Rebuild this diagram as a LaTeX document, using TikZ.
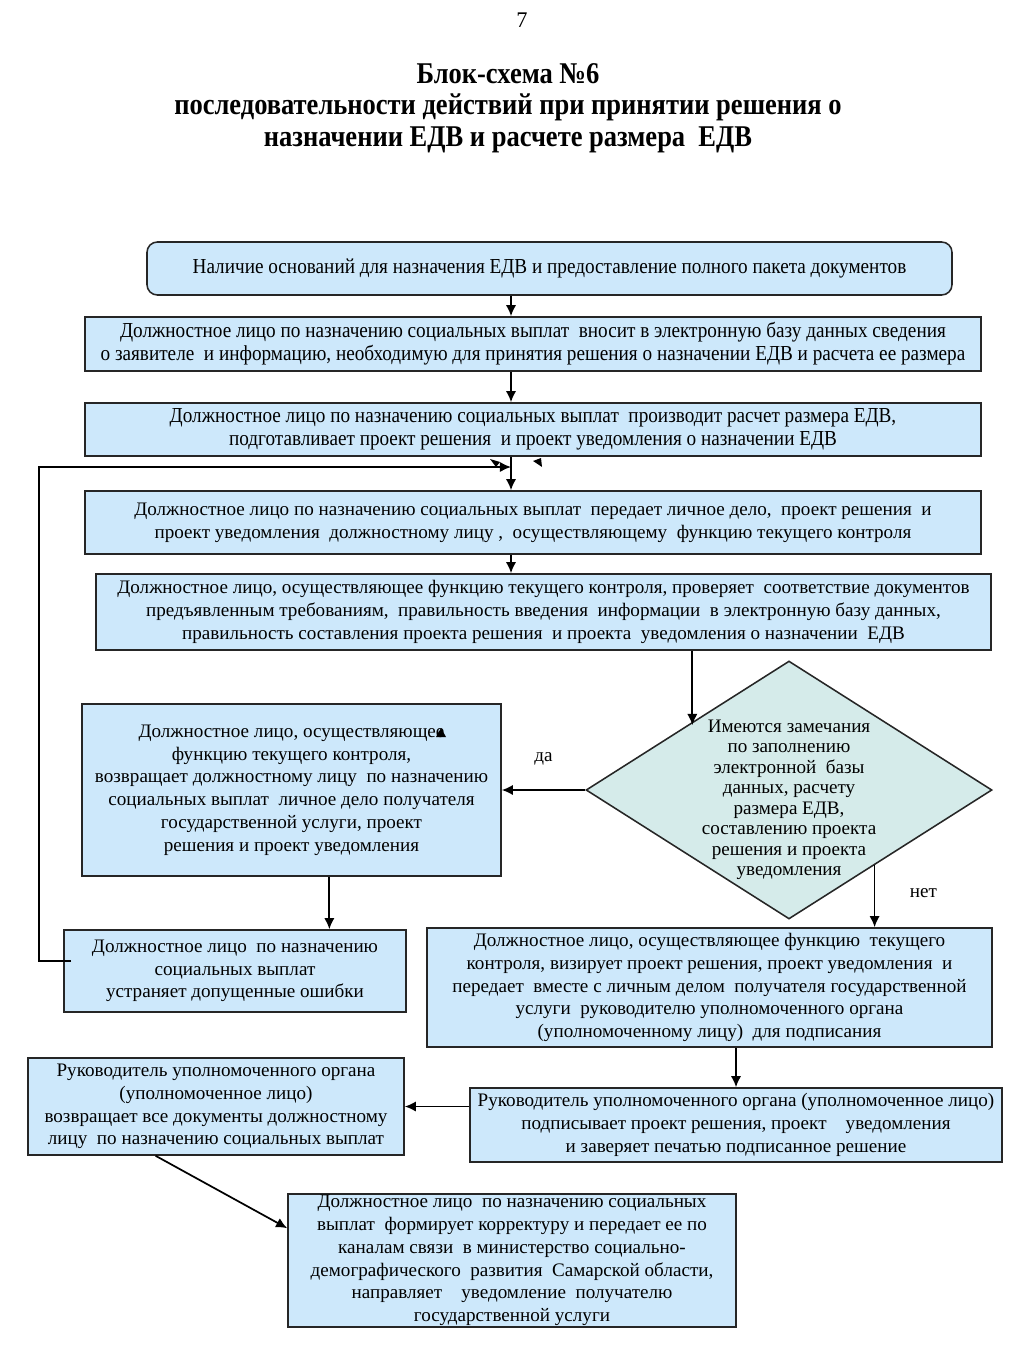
\documentclass[tikz,border=0pt]{standalone}
\usepackage{fontspec}
\setmainfont{Liberation Serif}
\newfontfamily\narrowfont[FakeStretch=0.9]{Liberation Serif}
\newfontfamily\headfont[FakeStretch=0.88]{Liberation Serif}
\usepackage{xcolor}
\usetikzlibrary{positioning,arrows.meta,shapes.geometric,calc}

\definecolor{boxblue}{HTML}{CDE8FB}
\definecolor{decgreen}{HTML}{D5EBEA}

\tikzset{
  sz/.style 2 args={minimum width={#1*0.581pt}, minimum height={#2*0.581pt}},
  box/.style={draw=black!85, fill=boxblue, line width=0.9pt, align=center, inner sep=0pt,
              font=\fontsize{11.1}{13.2}\selectfont},
  narrowbox/.style={box, font=\narrowfont\fontsize{12.4}{13.2}\selectfont},
  decision/.style={diamond, draw=black!85, fill=decgreen, line width=0.9pt, inner sep=0pt},
  arr/.style={-{Latex[length=6.5pt,width=6pt]}, line width=1pt},
  lbl/.style={font=\fontsize{11.1}{13.2}\selectfont, inner sep=1pt}
}

\begin{document}
\begin{tikzpicture}[x=0.581pt, y=-0.581pt]
  \useasboundingbox (0,0) rectangle (1024,1365);

  % Title
  \node (page) at (522,20) {\fontsize{13}{15}\selectfont 7};
  \node[align=center, font=\headfont\bfseries\fontsize{17.5}{18.2}\selectfont] (title) at (508,108)
    {Блок-схема №6\\ последовательности действий при принятии решения о\\ назначении ЕДВ и расчете размера~ ЕДВ};

  % Main column
  \node[narrowbox, rounded corners=6pt, sz={805}{53}] (b1) at (549.5,268.5)
    {Наличие оснований для назначения ЕДВ и предоставление полного пакета документов};
  \node[narrowbox, sz={896}{54}] (b2) at (533,344)
    {Должностное лицо по назначению социальных выплат~ вносит в электронную базу данных сведения\\
     о заявителе~ и информацию, необходимую для принятия решения о назначении ЕДВ и расчета ее размера};
  \node[narrowbox, sz={896}{53}] (b3) at (533,429.5)
    {Должностное лицо по назначению социальных выплат~ производит расчет размера ЕДВ,\\
     подготавливает проект решения~ и проект уведомления о назначении ЕДВ};
  \node[box, sz={896}{63}] (b4) at (533,522.5)
    {Должностное лицо по назначению социальных выплат~ передает личное дело,~ проект решения~ и\\
     проект уведомления~ должностному лицу ,~ осуществляющему~ функцию текущего контроля};
  \node[box, sz={895}{76}] (b5) at (543.5,612)
    {Должностное лицо, осуществляющее функцию текущего контроля, проверяет~ соответствие документов\\
     предъявленным требованиям,~ правильность введения~ информации~ в электронную базу данных,\\
     правильность составления проекта решения~ и проекта~ уведомления о назначении~ ЕДВ};

  % Check
  \node[decision, sz={406}{258}] (d) at (789,790) {};
  \node[align=center, font=\fontsize{11.1}{11.9}\selectfont] (dtxt) at (789,800)
    {Имеются замечания\\ по заполнению\\ электронной~ базы\\ данных, расчету\\ размера ЕДВ,\\
     составлению проекта\\ решения и проекта\\ уведомления};

  \node[box, sz={419}{172}] (b6) at (291.5,790)
    {Должностное лицо, осуществляющее\\ функцию текущего контроля,\\ возвращает должностному лицу~ по назначению\\
     социальных выплат~ личное дело получателя\\ государственной услуги, проект\\ решения и проект уведомления};
  \node[box, sz={342}{82}] (b8) at (235,971)
    {Должностное лицо~ по назначению\\ социальных выплат\\ устраняет допущенные ошибки};
  \node[box, sz={565}{119}] (b9) at (709.5,987.5)
    {Должностное лицо, осуществляющее функцию~ текущего\\ контроля, визирует проект решения, проект уведомления~ и\\
     передает~ вместе с личным делом~ получателя государственной\\ услуги~ руководителю уполномоченного органа\\
     (уполномоченному лицу)~ для подписания};
  \node[box, sz={376}{97}] (b10) at (216,1106.5)
    {Руководитель уполномоченного органа\\ (уполномоченное лицо)\\ возвращает все документы должностному\\
     лицу~ по назначению социальных выплат};
  \node[box, sz={532}{74}] (b11) at (736,1125)
    {Руководитель уполномоченного органа (уполномоченное лицо)\\ подписывает проект решения, проект~ ~ уведомления\\
     и заверяет печатью подписанное решение};
  \node[box, sz={448}{133}] (b12) at (512,1260.5)
    {Должностное лицо~ по назначению социальных\\ выплат~ формирует корректуру и передает ее по\\
     каналам связи~ в министерство социально-\\ демографического~ развития~ Самарской области,\\
     направляет~ ~ уведомление~ получателю\\ государственной услуги};

  % Connectors
  \coordinate (mid) at (511,467);
  \coordinate (lp) at (39,467);
  \draw[arr] (b1.south -| mid) -- (b2.north -| mid);
  \draw[arr] (b2.south -| mid) -- (b3.north -| mid);
  \draw[arr] (b3.south -| mid) -- (b4.north -| mid);
  \draw[arr] (b4.south -| mid) -- (b5.north -| mid);
  \draw[arr] ($(b5.south west)!0.666!(b5.south east)$) coordinate (p) -- (p |- d.north west);
  \draw[arr] (d.west) -- (d.west -| b6.east) node[lbl, pos=0.5, above=13pt] {да};
  \draw[arr] ($(b6.south west)!0.59!(b6.south east)$) coordinate (q) -- (q |- b8.north);
  \draw[arr] ($(d.south)!0.42!(d.east)$) coordinate (r) -- (r |- b9.north)
    node[lbl, pos=0.45, right=19pt] {нет};
  \draw[arr] (b9.south -| b11.north) -- (b11.north);
  \draw[arr] (b10.east -| b11.west) -- (b10.east);
  \draw[arr] ($(b10.south west)!0.34!(b10.south east)$) -- ($(b12.north west)!0.26!(b12.south west)$);
  \draw[arr] ($(b8.west)+(8,-10)$) -| (lp) -- (mid);

  % stray tips
  \fill (490,459) -- (500,462) -- (496,467) -- cycle;
  \fill (533,461) -- (541,458) -- (542,467) -- cycle;
  \fill (441,728) -- (446,737) -- (436,737) -- cycle;
\end{tikzpicture}
\end{document}
